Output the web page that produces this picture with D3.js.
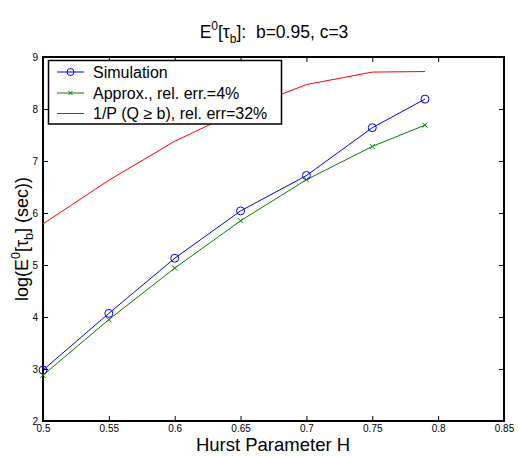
<!DOCTYPE html>
<html><head><meta charset="utf-8">
<script src="https://cdn.jsdelivr.net/npm/d3@7"></script>
<style>body{margin:0;background:#fff}svg{display:block}text{font-family:"Liberation Sans",Arial,sans-serif}</style>
</head><body>
<svg id="c" width="518" height="456"></svg>
<script>
const hurst = [0.5, 0.55, 0.6, 0.65, 0.7, 0.75, 0.79];
const simulation = [2.98, 4.07, 5.13, 6.04, 6.72, 7.64, 8.19];
const approx = [2.88, 3.95, 4.94, 5.85, 6.64, 7.28, 7.69];
const inverseP = [5.79, 6.63, 7.38, 7.98, 8.47, 8.71, 8.72];
const xTicks = [0.5, 0.55, 0.6, 0.65, 0.7, 0.75, 0.8, 0.85];
const yTicks = [2, 3, 4, 5, 6, 7, 8, 9];
const legendLabels = ["Simulation", "Approx., rel. err.=4%", "1/P (Q \u2265 b), rel. err=32%"];

const svg = d3.select("#c");
const L = 43, R = 504, T = 57, B = 421;
const x = d3.scaleLinear().domain([0.5, 0.85]).range([L, R]);
const y = d3.scaleLinear().domain([2, 9]).range([B, T]);

const fmt = d => String(d);
svg.append("g").attr("transform", `translate(0,${B})`)
  .call(d3.axisBottom(x).tickValues(xTicks).tickSizeInner(-5).tickSizeOuter(0).tickPadding(4).tickFormat(fmt))
  .call(g => g.select(".domain").remove())
  .call(g => g.selectAll("text").attr("font-size", 10).attr("fill", "#000"));
svg.append("g").attr("transform", `translate(0,${T})`)
  .call(d3.axisTop(x).tickValues(xTicks).tickSizeInner(-5).tickSizeOuter(0).tickFormat(""))
  .call(g => g.select(".domain").remove());
svg.append("g").attr("transform", `translate(${L},0)`)
  .call(d3.axisLeft(y).tickValues(yTicks).tickSizeInner(-5).tickSizeOuter(0).tickPadding(5).tickFormat(fmt))
  .call(g => g.select(".domain").remove())
  .call(g => g.selectAll("text").attr("font-size", 10).attr("fill", "#000"));
svg.append("g").attr("transform", `translate(${R},0)`)
  .call(d3.axisRight(y).tickValues(yTicks).tickSizeInner(-5).tickSizeOuter(0).tickFormat(""))
  .call(g => g.select(".domain").remove());
svg.selectAll(".tick line").attr("stroke", "#000").attr("stroke-width", 1);

svg.append("rect").attr("x", L).attr("y", T).attr("width", R - L).attr("height", B - T)
  .attr("fill", "none").attr("stroke", "#000").attr("stroke-width", 2);

const line = d3.line().x((d, i) => x(hurst[i])).y(d => y(d));
svg.append("path").datum(inverseP).attr("d", line).attr("fill", "none").attr("stroke", "#ff0000").attr("stroke-width", 1);
svg.append("path").datum(approx).attr("d", line).attr("fill", "none").attr("stroke", "#008000").attr("stroke-width", 1);
svg.append("path").datum(simulation).attr("d", line).attr("fill", "none").attr("stroke", "#0000ff").attr("stroke-width", 1);

svg.selectAll(".sim").data(simulation).enter().append("circle")
  .attr("cx", (d, i) => x(hurst[i])).attr("cy", d => y(d)).attr("r", 4)
  .attr("fill", "none").attr("stroke", "#0000ff").attr("stroke-width", 1);
const xm = 2.5;
svg.selectAll(".apx").data(approx).enter().append("path")
  .attr("d", (d, i) => { const cx = x(hurst[i]), cy = y(d); return `M${cx-xm},${cy-xm}L${cx+xm},${cy+xm}M${cx-xm},${cy+xm}L${cx+xm},${cy-xm}`; })
  .attr("stroke", "#008000").attr("stroke-width", 1);

const lg = svg.append("g");
lg.append("rect").attr("x", 48.5).attr("y", 60.5).attr("width", 233).attr("height", 63.5)
  .attr("fill", "#fff").attr("stroke", "#000").attr("stroke-width", 1.5);
const rowY = [72, 93, 113.5];
const cols = ["#0000ff", "#008000", "#ff0000"];
legendLabels.forEach((t, i) => {
  lg.append("line").attr("x1", 57).attr("x2", 84).attr("y1", rowY[i]).attr("y2", rowY[i]).attr("stroke", cols[i]).attr("stroke-width", 1);
  if (i === 0) lg.append("circle").attr("cx", 70.5).attr("cy", rowY[i]).attr("r", 3.5).attr("fill", "none").attr("stroke", cols[i]);
  if (i === 1) lg.append("path").attr("d", `M${70.5-2},${rowY[i]-2}L${70.5+2},${rowY[i]+2}M${70.5-2},${rowY[i]+2}L${70.5+2},${rowY[i]-2}`).attr("stroke", cols[i]);
  lg.append("text").attr("x", 93).attr("y", rowY[i] + 5.5).attr("font-size", 16).text(t);
});

const title = svg.append("text").attr("x", 274).attr("y", 38).attr("text-anchor", "middle").attr("font-size", 17.5);
title.append("tspan").text("E");
title.append("tspan").attr("dy", -8).attr("font-size", 12).text("0");
title.append("tspan").attr("dy", 8).text("[\u03c4");
title.append("tspan").attr("dy", 5).attr("font-size", 12).text("b");
title.append("tspan").attr("dy", -5).text("]:\u00a0 b=0.95, c=3");

svg.append("text").attr("x", 273).attr("y", 451).attr("text-anchor", "middle").attr("font-size", 18.5).text("Hurst Parameter H");

const yl = svg.append("text").attr("transform", "translate(28,239) rotate(-90)").attr("text-anchor", "middle").attr("font-size", 18);
yl.append("tspan").text("log(E");
yl.append("tspan").attr("dy", -8).attr("font-size", 12.5).text("0");
yl.append("tspan").attr("dy", 8).text("[\u03c4");
yl.append("tspan").attr("dy", 5).attr("font-size", 12.5).text("b");
yl.append("tspan").attr("dy", -5).text("] (sec))");
</script>
</body></html>
